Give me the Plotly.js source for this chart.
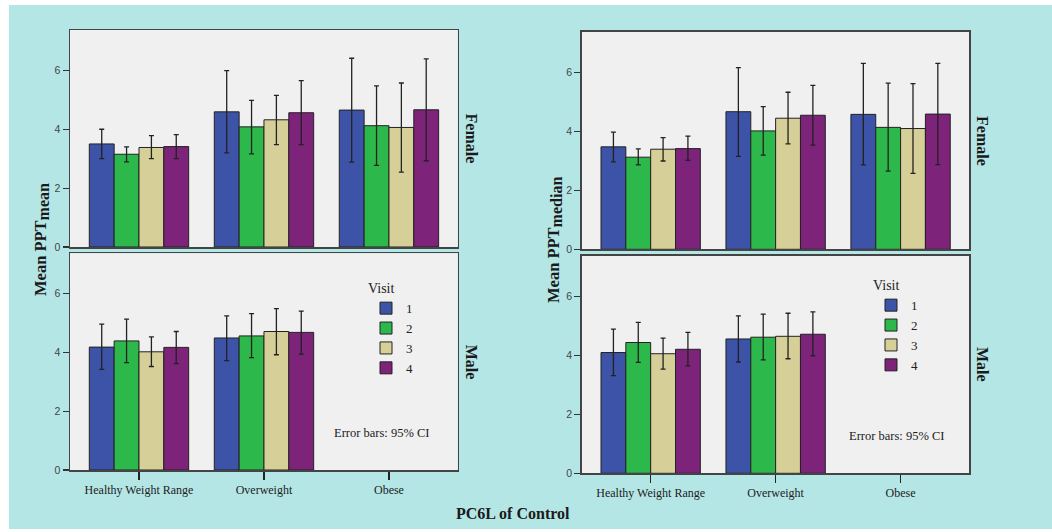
<!DOCTYPE html>
<html>
<head>
<meta charset="utf-8">
<script src="https://cdn.plot.ly/plotly-3.0.1.min.js"></script>
<style>
  html, body { margin: 0; padding: 0; background: #ffffff; }
  #chart { width: 1052px; height: 532px; }
</style>
</head>
<body>
<div id="chart"></div>
<script>
// ---- data ----
const categories = ['Healthy Weight Range', 'Overweight', 'Obese'];
const visits = ['1', '2', '3', '4'];

// Female, Mean PPT mean (rows = visits 1..4, columns = categories)
const femaleMean   = [[3.50, 4.59, 4.65], [3.15, 4.08, 4.12], [3.38, 4.32, 4.06], [3.41, 4.56, 4.66]];
const femaleMeanLo = [[3.00, 3.20, 2.88], [2.89, 3.16, 2.77], [3.00, 3.48, 2.54], [3.00, 3.48, 2.93]];
const femaleMeanHi = [[4.00, 5.99, 6.41], [3.40, 4.98, 5.47], [3.78, 5.15, 5.57], [3.82, 5.65, 6.39]];

// Male, Mean PPT mean
const maleMean   = [[4.18, 4.49, null], [4.39, 4.56, null], [4.02, 4.71, null], [4.17, 4.68, null]];
const maleMeanLo = [[3.42, 3.72, null], [3.65, 3.82, null], [3.52, 3.92, null], [3.62, 3.94, null]];
const maleMeanHi = [[4.96, 5.24, null], [5.13, 5.32, null], [4.53, 5.49, null], [4.71, 5.40, null]];

// Female, Mean PPT median
const femaleMedian   = [[3.47, 4.66, 4.57], [3.12, 4.01, 4.13], [3.39, 4.44, 4.09], [3.41, 4.54, 4.58]];
const femaleMedianLo = [[2.96, 3.15, 2.86], [2.86, 3.19, 2.65], [2.99, 3.57, 2.57], [3.01, 3.53, 2.87]];
const femaleMedianHi = [[3.97, 6.15, 6.30], [3.40, 4.83, 5.63], [3.78, 5.32, 5.61], [3.83, 5.55, 6.30]];

// Male, Mean PPT median
const maleMedian   = [[4.09, 4.55, null], [4.43, 4.61, null], [4.05, 4.64, null], [4.20, 4.71, null]];
const maleMedianLo = [[3.31, 3.77, null], [3.76, 3.84, null], [3.53, 3.88, null], [3.64, 3.98, null]];
const maleMedianHi = [[4.88, 5.33, null], [5.11, 5.39, null], [4.58, 5.42, null], [4.77, 5.47, null]];

const yTickVals = [0, 2, 4, 6];

// ---- styles ----
const visitColors = ['#3d53a8', '#2db84b', '#d6cf97', '#7d2379'];
const SERIF = '"Liberation Serif", "Times New Roman", serif';
const SANS = '"Liberation Sans", Arial, sans-serif';

function diff(a, b) { return a.map((v, i) => (v == null || b[i] == null) ? null : +(a[i] - b[i]).toFixed(3)); }

function panelTraces(vals, lo, hi, xa, ya, legendId, show) {
  return visits.map((v, k) => ({
    type: 'bar',
    name: v,
    x: categories,
    y: vals[k],
    xaxis: xa, yaxis: ya,
    legend: legendId,
    showlegend: show,
    legendgroup: legendId + '_' + v,
    marker: { color: visitColors[k], line: { color: '#222222', width: 1 } },
    error_y: {
      type: 'data', symmetric: false,
      array: diff(hi[k], vals[k]),
      arrayminus: diff(vals[k], lo[k]),
      color: '#222222', thickness: 1.3, width: 2.5
    },
    hoverinfo: 'x+y+name'
  }));
}

const traces = [].concat(
  panelTraces(femaleMean, femaleMeanLo, femaleMeanHi, 'x', 'y', 'legend', false),
  panelTraces(maleMean, maleMeanLo, maleMeanHi, 'x2', 'y2', 'legend', true),
  panelTraces(femaleMedian, femaleMedianLo, femaleMedianHi, 'x3', 'y3', 'legend2', false),
  panelTraces(maleMedian, maleMedianLo, maleMedianHi, 'x4', 'y4', 'legend2', true)
);

const W = 1052, H = 532;
const px = v => v / W;
const py = v => 1 - v / H;

function xAxis(domain, anchor, labels) {
  return {
    domain: domain, anchor: anchor, type: 'category',
    range: [-0.552, 2.55], fixedrange: true,
    showline: true, mirror: true, linecolor: '#444444', linewidth: 1.5,
    showgrid: false, zeroline: false,
    ticks: labels ? 'outside' : '', ticklen: 8, tickcolor: '#222222', tickwidth: 1.3,
    showticklabels: labels,
    tickfont: { family: SERIF, size: 12, color: '#222222' }
  };
}
function yAxis(domain, anchor) {
  return {
    domain: domain, anchor: anchor,
    range: [0, 7.37], fixedrange: true,
    tickvals: yTickVals,
    showline: true, mirror: true, linecolor: '#444444', linewidth: 1.5,
    showgrid: false, zeroline: false,
    ticks: 'outside', ticklen: 6, tickcolor: '#333333', tickwidth: 1.2,
    tickfont: { family: SANS, size: 10.5, color: '#444444' }
  };
}

const leftX = [px(70), px(457.7)];
const rightX = [px(581.7), px(969.3)];

function note(text, x, y, size, angle) {
  return {
    text: text, xref: 'paper', yref: 'paper', x: px(x), y: py(y),
    xanchor: 'center', yanchor: 'middle', textangle: angle || 0,
    showarrow: false, font: { family: SERIF, size: size, color: '#1a1a1a' }
  };
}

const layout = {
  width: W, height: H,
  margin: { l: 0, r: 0, t: 0, b: 0, pad: 0 },
  paper_bgcolor: '#b5e6e6',
  plot_bgcolor: '#f0f0f0',
  barmode: 'group', bargap: 0.205, bargroupgap: 0,
  font: { family: SERIF, color: '#222222' },
  xaxis:  xAxis(leftX, 'y', false),
  yaxis:  yAxis([py(247), py(30)], 'x'),
  xaxis2: xAxis(leftX, 'y2', true),
  yaxis2: yAxis([py(470), py(253.3)], 'x2'),
  xaxis3: xAxis(rightX, 'y3', false),
  yaxis3: yAxis([py(249.3), py(31.7)], 'x3'),
  xaxis4: xAxis(rightX, 'y4', true),
  yaxis4: yAxis([py(473.3), py(255.7)], 'x4'),
  legend: {
    x: px(366), y: py(275), xanchor: 'left', yanchor: 'top',
    bgcolor: 'rgba(0,0,0,0)', borderwidth: 0, tracegroupgap: 0,
    font: { family: SERIF, size: 13, color: '#222222' },
    title: { text: 'Visit', font: { family: SERIF, size: 14, color: '#222222' } }
  },
  legend2: {
    x: px(871), y: py(272), xanchor: 'left', yanchor: 'top',
    bgcolor: 'rgba(0,0,0,0)', borderwidth: 0, tracegroupgap: 0,
    font: { family: SERIF, size: 13, color: '#222222' },
    title: { text: 'Visit', font: { family: SERIF, size: 14, color: '#222222' } }
  },
  shapes: [
    { type: 'rect', xref: 'paper', yref: 'paper', x0: 0, x1: px(9), y0: 0, y1: 1, fillcolor: '#ffffff', line: { width: 0 }, layer: 'below' },
    { type: 'rect', xref: 'paper', yref: 'paper', x0: 0, x1: 1, y0: py(5), y1: 1, fillcolor: '#ffffff', line: { width: 0 }, layer: 'below' },
    { type: 'rect', xref: 'paper', yref: 'paper', x0: 0, x1: 1, y0: 0, y1: py(529), fillcolor: '#ffffff', line: { width: 0 }, layer: 'below' }
  ],
  annotations: [
    note('<b>Female</b>', 471, 138.5, 16, 90),
    note('<b>Male</b>', 471, 361.7, 16, 90),
    note('<b>Female</b>', 982.5, 140.5, 16, 90),
    note('<b>Male</b>', 982.5, 364.5, 16, 90),
    note('Error bars: 95% CI', 381.3, 432.7, 12.5),
    note('Error bars: 95% CI', 896.4, 435.7, 12.5),
    note('<b>PC6L of Control</b>', 513, 513.3, 16),
    note('<b>Mean PPT<sub><span style="font-size:16px">mean</span></sub></b>', 41, 240, 16.5, -90),
    note('<b>Mean PPT<sub><span style="font-size:16px">median</span></sub></b>', 554, 240, 16.5, -90)
  ]
};

Plotly.newPlot('chart', traces, layout, { staticPlot: true, displayModeBar: false });
</script>
</body>
</html>
